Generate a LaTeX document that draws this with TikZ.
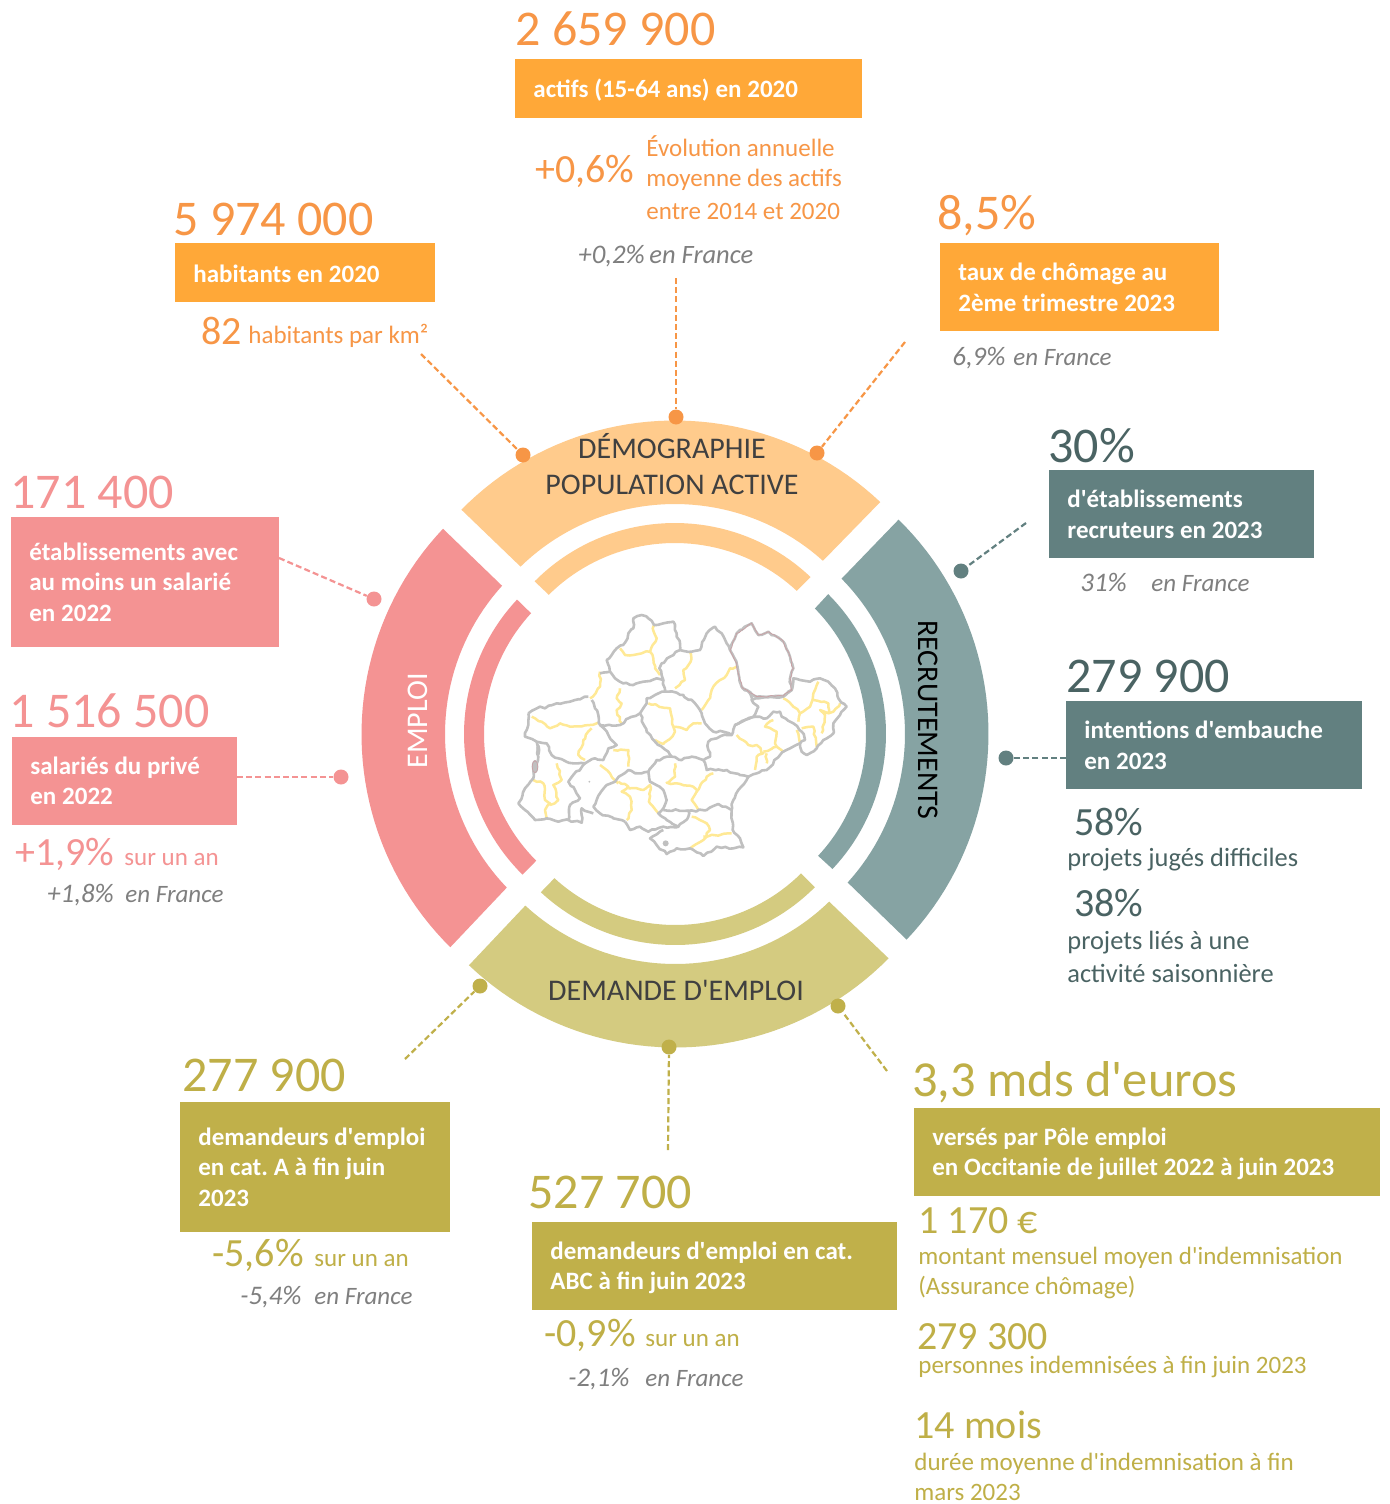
\documentclass[tikz,border=0pt]{standalone}
\usepackage{fontspec}
\usetikzlibrary{decorations.pathmorphing}
\setmainfont{Carlito}[Ligatures=TeXOff]
\definecolor{oTxt}{HTML}{F79646}
\definecolor{oBox}{HTML}{FFA838}
\definecolor{oBand}{HTML}{FFCB8C}
\definecolor{tTxt}{HTML}{4A6363}
\definecolor{tBox}{HTML}{628080}
\definecolor{tBand}{HTML}{86A3A3}
\definecolor{pTxt}{HTML}{F49393}
\definecolor{pBox}{HTML}{F49393}
\definecolor{gTxt}{HTML}{BFAF47}
\definecolor{gBox}{HTML}{C0B04A}
\definecolor{gBand}{HTML}{D4CB80}
\definecolor{itxt}{HTML}{7F7F7F}
\definecolor{mapG}{HTML}{C0C0C0}
\definecolor{mapY}{HTML}{FFE995}
\definecolor{mapP}{HTML}{C9A0A4}
\newcommand\fsz[1]{\fontsize{#1}{15.25}\selectfont}
\newcommand\bxsp{\frenchspacing\spaceskip 2.9pt\relax}
\def\cx{675}\def\cy{734}
% colour; outer a1 a2; inner b1 b2; R d; r e
\newcommand\band[9]{%
 \pgfmathsetmacro\ma{(#2+#3)/2}\pgfmathsetmacro\mb{(#4+#5)/2}%
 \fill[#1] plot[domain=#2:#3,samples=45] ({\cx+(#6-#7*((\x-\ma)/44)*((\x-\ma)/44))*cos(\x)},{\cy-(#6-#7*((\x-\ma)/44)*((\x-\ma)/44))*sin(\x)})
 -- plot[domain=#5:#4,samples=45] ({\cx+(#8-#9*((\x-\mb)/44)*((\x-\mb)/44))*cos(\x)},{\cy-(#8-#9*((\x-\mb)/44)*((\x-\mb)/44))*sin(\x)}) -- cycle;}
% [dy] name x y w h colour text
\newcommand\boxn[8][0]{%
 \node[boxfill,fill=#7,minimum width={#5*0.5pt},minimum height={#6*0.5pt}] (#2) at (#3,#4) {};
 \node[boxlabel,text width={(#5-36)*0.5pt}] (#2t) at ({#3+18},{#4+#6/2+#1}) {\bxsp #8};}
\tikzset{
 bignum/.style={anchor=base west,inner sep=0pt,font=\fsz{25}},
 midnum/.style={anchor=base west,inner sep=0pt,font=\fsz{20}},
 small/.style={anchor=base west,inner sep=0pt,font=\fsz{12.5}},
 ital/.style={anchor=base west,inner sep=0pt,font=\fsz{12.5}\itshape,text=itxt},
 italn/.style={anchor=base west,inner sep=0pt,font=\fsz{13.4}\itshape,text=itxt},
 boxfill/.style={anchor=north west,inner sep=0pt},
 boxlabel/.style={anchor=west,inner sep=0pt,align=left,text=white,font=\fsz{12.5}\bfseries},
 bandlabel/.style={inner sep=0pt,font=\fsz{15},text=black!75},
 dashline/.style={line width=1.1pt,dash pattern=on 3pt off 1.6pt},
 dot/.style={circle,inner sep=0pt,minimum size=7.5pt},
 wob/.style={decorate,decoration={random steps,segment length=2pt,amplitude=0.55pt}},
 gline/.style={draw=mapG,line width=1.3pt,line join=round,wob},
 yline/.style={draw=mapY,line width=1.25pt,line join=round,wob},
}
\pgfmathsetseed{7}
\begin{document}
\begin{tikzpicture}[x=0.5pt,y=-0.5pt]
\useasboundingbox (0,0) rectangle (1389,1504);
\fill[white] (0,0) rectangle (1389,1504);
% bands
\band{oBand}{48.5}{133.6}{49.5}{132.7}{313.5}{4}{230}{2.5}
\band{oBand}{49.2}{132.6}{49.6}{132.2}{211}{4}{191}{3.5}
\band{tBand}{-41.6}{43.8}{-40.7}{43}{313.5}{4}{230}{2.5}
\band{tBand}{-40.6}{42.4}{-40.4}{41.9}{211}{4}{191}{3.5}
\band{pBox}{138.5}{223.5}{139.4}{222.4}{313.5}{4}{230}{2.5}
\band{pBox}{139.6}{222.7}{140}{222.4}{211}{4}{191}{3.5}
\band{gBand}{228.3}{313.6}{228.9}{312.6}{313.5}{4}{230}{2.5}
\band{gBand}{229.7}{312.4}{230.1}{312.1}{211}{4}{191}{3.5}
\node[bandlabel] (bd1) at (672,446) {DÉMOGRAPHIE};
\node[bandlabel] (bd2) at (672,485) {POPULATION ACTIVE};
\node[bandlabel] (bd3) at (676,990) {DEMANDE D'EMPLOI};
\node[bandlabel,text=black,rotate=-90] (bd4) at (928,720) {RECRUTEMENTS};
\node[bandlabel,text=white,rotate=90] (bd5) at (418,721) {EMPLOI};
% map
\begin{scope}[shift={(500,600)},x=0.16667pt,y=-0.16667pt]
\draw[yline] (360,145)--(375,165)--(400,165)--(425,160)--(450,155)--(460,175)--(465,205)--(480,225);
\draw[yline] (450,155)--(458,135)--(470,115)--(458,85)--(462,75);
\draw[yline] (570,155)--(572,185)--(550,210)--(555,240)--(525,265);
\draw[yline] (710,200)--(690,205)--(680,225)--(660,240)--(635,270)--(625,300)--(605,330);
\draw[yline] (360,265)--(350,295)--(365,310)--(350,330)--(365,370);
\draw[yline] (300,215)--(300,260)--(270,295);
\draw[yline] (95,350)--(125,365)--(150,385)--(180,370)--(210,380)--(270,375)--(295,368);
\draw[yline] (275,385)--(250,420)--(235,465)--(255,480);
\draw[yline] (445,310)--(510,325)--(520,380)--(525,395)--(505,420)--(490,432)--(465,420);
\draw[yline] (520,380)--(560,390)--(580,370)--(605,370);
\draw[yline] (340,450)--(385,450)--(385,500);
\draw[yline] (300,495)--(330,520)--(355,550);
\draw[yline] (355,545)--(385,560)--(365,575)--(390,590)--(395,630)--(380,660);
\draw[yline] (385,565)--(430,570)--(450,555)--(450,610)--(475,640);
\draw[yline] (525,490)--(525,530)--(500,548)--(530,550)--(580,560)--(590,575)--(575,600)--(595,630);
\draw[yline] (590,575)--(620,530)--(640,520);
\draw[yline] (100,540)--(130,550)--(135,600)--(150,610)--(135,630)--(140,655);
\draw[yline] (170,490)--(185,540)--(160,555)--(175,600)--(150,615);
\draw[yline] (710,405)--(745,435)--(770,435)--(790,460)--(770,470)--(765,510);
\draw[yline] (790,455)--(830,440)--(850,455);
\draw[yline] (830,440)--(825,430)--(830,395)--(795,380)--(820,360);
\draw[yline] (800,460)--(800,490);
\draw[yline] (575,650)--(620,670)--(630,690)--(610,720)--(570,745);
\draw[yline] (610,710)--(640,705)--(695,700);
\draw[yline] (850,295)--(880,320)--(900,340)--(895,365);
\draw[yline] (900,340)--(930,320)--(940,280)--(955,245);
\draw[yline] (940,300)--(985,310)--(985,340)--(960,330)--(975,345)--(965,400);
\draw[yline] (985,340)--(1000,335)--(1020,310);
\draw[yline] (905,385)--(940,380)--(950,440);
\draw[yline] (890,390)--(900,430);
% grey
\draw[gline] (320,180)--(335,165)--(350,145)--(375,128)--(385,100)--(400,85)--(400,55)--(425,45)--(445,55)--(462,75)--(490,70)--(520,65)--(530,100)--(540,130)--(540,150)--(510,170)--(485,190)--(478,205)--(490,240)--(470,235)--(430,245)--(400,255)--(370,250)--(345,235)--(330,215)--(325,195)--cycle;
\draw[gline] (540,150)--(575,155)--(600,150)--(620,100)--(645,80)--(665,100)--(680,130)--(690,150)--(710,190)--(715,220)--(725,260)--(750,280)--(755,300)--(775,320)--(760,350)--(735,360)--(705,375)--(695,405)--(670,395)--(640,395)--(615,370)--(605,340)--(585,310)--(550,285)--(530,278)--(495,275)--(490,240);
\draw[gline] (300,220)--(330,215);
\draw[gline] (275,300)--(285,325)--(295,345)--(300,375)--(360,375)--(385,355)--(420,340)--(440,310)--(440,295)--(465,285)--(495,275);
\draw[gline] (85,340)--(120,320)--(135,325)--(170,310)--(210,305)--(240,298)--(265,290);
\draw[gline] (85,340)--(85,375)--(75,410)--(110,425)--(140,430)--(155,465)--(175,475)--(220,490)--(255,490)--(285,475)--(310,480)--(325,445)--(350,435)--(325,405)--(300,375);
\draw[gline] (420,340)--(440,395)--(465,425)--(505,455)--(515,470)--(545,480)--(575,470)--(610,480)--(630,470)--(625,450)--(625,425)--(650,415)--(680,405)--(695,405);
\draw[gline] (515,470)--(470,480)--(445,515)--(415,520)--(385,510)--(365,525)--(345,545)--(320,555)--(300,580)--(280,620)--(300,640)--(340,655)--(375,665);
\draw[gline] (255,490)--(205,545)--(225,570)--(240,595)--(210,615)--(205,660)--(245,668)--(245,625)--(280,640);
\draw[gline] (110,425)--(115,470)--(105,500)--(100,535)--(75,565)--(55,610)--(75,630)--(105,660)--(140,655)--(175,665)--(205,660);
\draw[gline] (375,665)--(390,690)--(420,680)--(445,695)--(490,680)--(535,680)--(565,650)--(565,632)--(620,630)--(655,612)--(695,630)--(698,690)--(720,715)--(730,742)--(700,745)--(650,740)--(610,768)--(570,745)--(530,745)--(500,762)--(470,735)--(450,715)--(490,690);
\draw[gline] (445,515)--(450,545)--(490,570)--(500,600)--(490,625)--(475,640)--(500,660)--(535,680);
\draw[gline] (490,630)--(565,632);
\draw[gline] (610,480)--(620,510)--(680,510)--(720,525)--(745,530)--(715,570)--(700,600)--(695,630);
\draw[gline] (705,375)--(735,360)--(770,350)--(800,355)--(820,335)--(840,335)--(845,350)--(880,370)--(905,395)--(915,420)--(900,430)--(870,445)--(840,465)--(800,510)--(770,520)--(745,530);
\draw[gline] (755,300)--(775,295)--(850,290)--(875,270)--(880,235)--(900,240)--(930,245)--(960,235)--(985,245)--(1005,265)--(1015,295)--(1040,320)--(1020,345)--(1000,370)--(1000,400)--(970,420)--(950,445)--(920,465)--(905,455)--(900,430);
\draw[gline] (690,150)--(710,100)--(725,90)--(755,70)--(775,105)--(805,95)--(850,125)--(870,170)--(880,205)--(870,235)--(875,270)--(850,288)--(790,290)--(770,290)--(740,270)--(725,260);
\draw[draw=mapP,line width=0.35pt,wob] (690,150)--(710,100)--(725,90)--(755,70)--(775,105)--(805,95)--(850,125)--(870,170)--(880,205)--(870,235)--(875,270)--(850,288)--(790,290)--(770,290)--(740,270)--(725,260)--(715,220)--(710,190)--cycle;
\fill[mapG] (115,450) ellipse (6 and 18);
\fill[mapG] (105,500) ellipse (10 and 20);
\draw[mapP,line width=0.3pt] (105,500) ellipse (8 and 18);
\fill[mapG] (497,730) circle (9);
\fill[mapG] (268,545) circle (3);
\end{scope}
% orange
\node[bignum,text=oTxt] (t1) at (515,46) {2 659 900};
\boxn[2]{b1}{515}{59}{347}{59}{oBox}{actifs (15-64 ans) en 2020}
\node[midnum,text=oTxt] (t2) at (535,182) {+0,6\%};
\node[small,text=oTxt] (t3) at (646,156) {Évolution annuelle};
\node[small,text=oTxt] (t4) at (646,186) {moyenne des actifs};
\node[small,text=oTxt] (t5) at (646,219) {entre 2014 et 2020};
\node[italn] (t6) at (578,263) {+0,2\%};
\node[ital,font=\fsz{13.25}\itshape] (t7) at (649,263) {en France};
\node[bignum,text=oTxt] (t8) at (173,235) {5 974 000};
\boxn[1]{b2}{175}{243}{260}{59}{oBox}{habitants en 2020}
\node[midnum,text=oTxt] (t9) at (201,344) {82};
\node[small,text=oTxt] (t10) at (248,343) {habitants par km²};
\node[bignum,text=oTxt] (t11) at (937,229) {8,5\%};
\boxn[0.5]{b3}{940}{243}{279}{88}{oBox}{taux de chômage au\\2ème trimestre 2023}
\node[italn] (t12) at (952,365) {6,9\%};
\node[ital] (t13) at (1013,365) {en France};
% teal
\node[bignum,text=tTxt] (t14) at (1048,462) {30\%};
\boxn[0.5]{b4}{1049}{470}{265}{88}{tBox}{d'établissements\\recruteurs en 2023}
\node[italn] (t15) at (1080,591) {31\%};
\node[ital] (t16) at (1151,591) {en France};
\node[bignum,text=tTxt] (t17) at (1066,692) {279 900};
\boxn[0.5]{b5}{1066}{701}{296}{88}{tBox}{intentions d'embauche\\en 2023}
\node[midnum,text=tTxt] (t18) at (1074,835) {58\%};
\node[small,font=\fsz{13.2},text=tTxt] (t19) at (1067,866) {projets jugés difficiles};
\node[midnum,text=tTxt] (t20) at (1074,916) {38\%};
\node[small,font=\fsz{13.2},text=tTxt] (t21) at (1067,949) {projets liés à une};
\node[small,font=\fsz{13.2},text=tTxt] (t22) at (1067,982) {activité saisonnière};
% pink
\node[bignum,text=pTxt] (t23) at (10,508) {171 400};
\boxn{b6}{11}{517}{268}{130}{pBox}{établissements avec\\au moins un salarié\\en 2022}
\node[bignum,text=pTxt] (t24) at (9,727) {1 516 500};
\boxn{b7}{12}{737}{225}{88}{pBox}{salariés du privé\\en 2022}
\node[midnum,text=pTxt] (t25) at (15,865) {+1,9\%};
\node[small,text=pTxt] (t26) at (124,865) {sur un an};
\node[italn] (t27) at (47,902) {+1,8\%};
\node[ital] (t28) at (125,902) {en France};
% olive
\node[bignum,text=gTxt] (t29) at (182,1091) {277 900};
\boxn{b8}{180}{1102}{270}{130}{gBox}{demandeurs d'emploi\\en cat. A à fin juin\\2023}
\node[midnum,text=gTxt] (t30) at (212,1266) {-5,6\%};
\node[small,text=gTxt] (t31) at (314,1266) {sur un an};
\node[italn] (t32) at (240,1304) {-5,4\%};
\node[ital] (t33) at (314,1304) {en France};
\node[bignum,text=gTxt] (t34) at (528,1208) {527 700};
\boxn[2]{b9}{532}{1222}{365}{88}{gBox}{demandeurs d'emploi en cat.\\ABC à fin juin 2023}
\node[midnum,text=gTxt] (t35) at (544,1346) {-0,9\%};
\node[small,text=gTxt] (t36) at (645,1346) {sur un an};
\node[italn] (t37) at (568,1386) {-2,1\%};
\node[ital] (t38) at (645,1386) {en France};
\node[bignum,font=\fsz{25.2},text=gTxt] (t39) at (912,1096) {3,3 mds d'euros};
\boxn[2]{b10}{914}{1108}{466}{88}{gBox}{versés par Pôle emploi\\en Occitanie de juillet 2022 à juin 2023}
\node[midnum,text=gTxt] (t40) at (918,1233) {1 170 €};
\node[small,text=gTxt] (t41) at (918,1264) {montant mensuel moyen d'indemnisation};
\node[small,text=gTxt] (t42) at (918,1294) {(Assurance chômage)};
\node[midnum,text=gTxt] (t43) at (917,1349) {279 300};
\node[small,text=gTxt] (t44) at (918,1373) {personnes indemnisées à fin juin 2023};
\node[midnum,text=gTxt] (t45) at (914,1438) {14 mois};
\node[small,text=gTxt] (t46) at (914,1470) {durée moyenne d'indemnisation à fin};
\node[small,text=gTxt] (t47) at (914,1500) {mars 2023};
% dots and connectors
\node[dot,fill=oTxt] (d1) at (523,455) {};
\node[dot,fill=oTxt] (d2) at (676,417) {};
\node[dot,fill=oTxt] (d3) at (817,453) {};
\node[dot,fill=tBox] (d4) at (961,571) {};
\node[dot,fill=tBox] (d5) at (1006,758) {};
\node[dot,fill=pBox] (d6) at (374,599) {};
\node[dot,fill=pBox] (d7) at (341,777) {};
\node[dot,fill=gBox] (d8) at (480,986) {};
\node[dot,fill=gBox] (d9) at (669,1047) {};
\node[dot,fill=gBox] (d10) at (838,1006) {};
\coordinate (e1) at (421,354);
\coordinate (e2) at (676,278);
\coordinate (e3) at (905,342);
\coordinate (e4) at (1026,523);
\coordinate (e5) at (1066,758);
\coordinate (e6) at (279,558);
\coordinate (e7) at (237,777);
\coordinate (e8) at (405,1059);
\coordinate (e9) at (668,1150);
\coordinate (e10) at (887,1071);
\draw[dashline,oTxt] (e1)--(d1);
\draw[dashline,oTxt] (e2)--(d2);
\draw[dashline,oTxt] (e3)--(d3);
\draw[dashline,tBox] (e4)--(d4);
\draw[dashline,tBox] (e5)--(d5);
\draw[dashline,pBox] (e6)--(d6);
\draw[dashline,pBox] (e7)--(d7);
\draw[dashline,gBox] (e8)--(d8);
\draw[dashline,gBox] (e9)--(d9);
\draw[dashline,gBox] (e10)--(d10);
\end{tikzpicture}
\end{document}
